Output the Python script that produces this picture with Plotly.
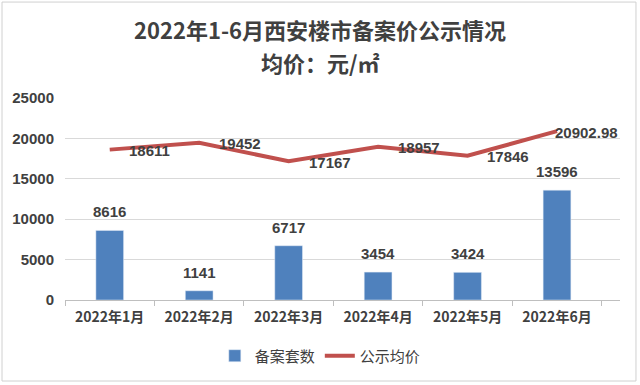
import plotly.graph_objects as go

title_line1 = "2022年1-6月西安楼市备案价公示情况"
title_line2 = "均价：元/㎡"
months = ["2022年1月", "2022年2月", "2022年3月", "2022年4月", "2022年5月", "2022年6月"]
units = [8616, 1141, 6717, 3454, 3424, 13596]
prices = [18611, 19452, 17167, 18957, 17846, 20902.98]
price_labels = ["18611", "19452", "17167", "18957", "17846", "20902.98"]
label_shift = [17, 18, 18, 18, 17, -4]

BAR = "#4F81BD"
LINE = "#C0504D"
TXT = "#404040"
NUMFONT = dict(family="Liberation Sans, Arial, sans-serif", size=15, color=TXT)
CJK = "Noto Sans CJK SC, sans-serif"

fig = go.Figure()
fig.add_trace(go.Bar(
    x=months, y=units, name="备案套数", marker_color=BAR, width=0.31,
))
fig.add_trace(go.Scatter(
    x=months, y=prices, name="公示均价", mode="lines",
    line=dict(color=LINE, width=4),
))

for m, u in zip(months, units):
    fig.add_annotation(x=m, y=u, text="<b>" + str(u) + "</b>", showarrow=False,
                       xanchor="center", yanchor="bottom", yshift=8,
                       font=NUMFONT)

for m, p, lab, s in zip(months, prices, price_labels, label_shift):
    fig.add_annotation(x=m, y=p, text="<b>" + lab + "</b>", showarrow=False,
                       xanchor="left", yanchor="middle", xshift=s, yshift=-1,
                       font=NUMFONT)

# title as two separate lines
for txt, yy in ((title_line1, 1.34), (title_line2, 1.18)):
    fig.add_annotation(xref="paper", yref="paper", x=0.46, y=yy,
                       text="<b>" + txt + "</b>", showarrow=False,
                       xanchor="center", yanchor="middle",
                       font=dict(size=22, color=TXT, family=CJK))

fig.add_shape(type="rect", xref="paper", yref="paper",
              x0=-0.1135, x1=1.0288, y0=-0.401, y1=1.475,
              line=dict(color="#D0D0D0", width=1), layer="below")

fig.update_layout(
    width=640, height=385,
    margin=dict(l=65, r=20, t=98, b=85),
    paper_bgcolor="white", plot_bgcolor="white",
    font=dict(family=CJK, color=TXT),
    showlegend=True,
    legend=dict(orientation="h", x=0.46, xanchor="center", y=-0.277, yanchor="middle",
                font=dict(size=15, color=TXT), traceorder="normal",
                itemwidth=30),
    xaxis=dict(
        tickfont=dict(size=14, color=TXT, family=CJK),
        tickprefix="<b>", ticksuffix="</b>",
        showline=True, linecolor="#BFBFBF", linewidth=1,
        ticks="outside", tickson="boundaries", ticklen=5, tickcolor="#BFBFBF",
        showgrid=False, ticklabelstandoff=4,
    ),
    yaxis=dict(
        range=[0, 25000], dtick=5000, tickformat="d",
        tickprefix="<b>", ticksuffix="</b>",
        tickfont=dict(size=15, color=TXT, family="Liberation Sans, Arial, sans-serif"),
        showgrid=True, gridcolor="#D9D9D9", gridwidth=1,
        zeroline=False, showline=False, ticks="", ticklabelstandoff=10,
    ),
)

fig.write_html("out.html")
